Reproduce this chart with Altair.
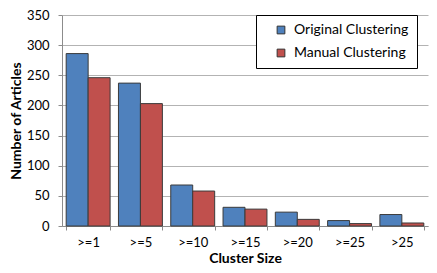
import altair as alt
import pandas as pd

categories = [">=1", ">=5", ">=10", ">=15", ">=20", ">=25", ">25"]
series = ["Original Clustering", "Manual Clustering"]
original = [286, 237, 68, 31, 23, 9, 19]
manual = [246, 203, 58, 28, 11, 4, 5]
y_ticks = [0, 50, 100, 150, 200, 250, 300, 350]
colors = ["#4F81BD", "#C0504D"]

rows = []
for c, o, m in zip(categories, original, manual):
    rows.append({"size": c, "series": series[0], "count": o})
    rows.append({"size": c, "series": series[1], "count": m})
df = pd.DataFrame(rows)

font = "Lato"
gray = "#8c8c8c"

chart = alt.Chart(df).mark_bar(stroke="#3b3b3b", strokeWidth=1).encode(
    x=alt.X(
        "size:N", sort=categories, title="Cluster Size",
        scale=alt.Scale(paddingInner=0.16, paddingOuter=0.08),
        axis=alt.Axis(labelAngle=0, tickBand="extent", tickSize=4, labelPadding=6,
                      titlePadding=2, domainColor=gray, tickColor=gray,
                      labelColor="#000", labelFont=font, labelFontSize=13,
                      titleFont=font, titleFontSize=14, titleFontWeight="bold",
                      titleColor="#000"),
    ),
    xOffset=alt.XOffset("series:N", sort=series,
                        scale=alt.Scale(paddingInner=0, paddingOuter=0)),
    y=alt.Y(
        "count:Q", title="Number of Articles",
        scale=alt.Scale(domain=[0, 350], nice=False),
        axis=alt.Axis(values=y_ticks, tickSize=4, labelPadding=9, titlePadding=3,
                      domainColor=gray, tickColor=gray, gridColor="#b3b3b3",
                      labelColor="#000", labelFont=font, labelFontSize=13,
                      titleFont=font, titleFontSize=14, titleFontWeight="bold",
                      titleColor="#000"),
    ),
    color=alt.Color(
        "series:N", sort=series,
        scale=alt.Scale(domain=series, range=colors),
        legend=alt.Legend(title=None, orient="none", legendX=194, legendY=0,
                          strokeColor="#000", fillColor="#fff", padding=8,
                          symbolType="square", symbolSize=60,
                          symbolStrokeColor="#333", symbolStrokeWidth=1,
                          symbolOffset=10, labelOffset=6,
                          labelFont=font, labelFontSize=14, labelColor="#000",
                          rowPadding=9),
    ),
).properties(
    width=366, height=211,
    autosize=alt.AutoSizeParams(type="none"),
    padding={"left": 54, "top": 7, "right": 1, "bottom": 39},
).configure_view(strokeWidth=0)

chart.save("out.html", embed_options={"renderer": "svg", "actions": False})
